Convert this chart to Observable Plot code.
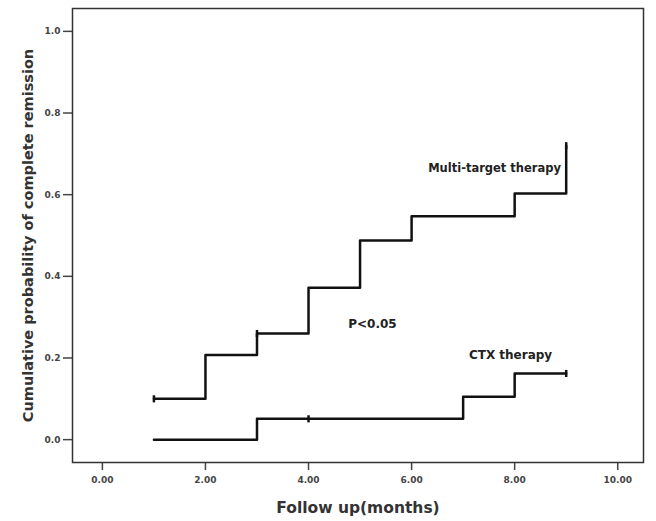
<!DOCTYPE html>
<html>
<head>
<meta charset="utf-8">
<script src="https://cdn.jsdelivr.net/npm/d3@7"></script>
<script src="https://cdn.jsdelivr.net/npm/@observablehq/plot@0.6"></script>
<style>
  html, body { margin: 0; padding: 0; background: #fff; }
  svg { display: block; }
</style>
</head>
<body>
<div id="chart"></div>
<script>
// Multi-target therapy: cumulative probability step curve
const multiTimes = [1, 2, 3, 4, 5, 6, 8, 9];
const multiValues = [0.10, 0.207, 0.26, 0.372, 0.488, 0.547, 0.603, 0.72];
const multiCensorTimes = [1, 3, 9];
const multiCensorValues = [0.10, 0.26, 0.72];

// CTX therapy
const ctxTimes = [1, 3, 7, 8, 9];
const ctxValues = [0, 0.051, 0.105, 0.162, 0.162];
const ctxCensorTimes = [4, 9];
const ctxCensorValues = [0.051, 0.162];

// Axis ticks
const xTicks = [0, 2, 4, 6, 8, 10];
const yTicks = [0, 0.2, 0.4, 0.6, 0.8, 1.0];

// Annotations
const noteTexts = ["Multi-target therapy", "P<0.05", "CTX therapy"];
const noteX = [7.61, 5.24, 7.92];
const noteY = [0.664, 0.284, 0.206];
const noteSize = [11.5, 12, 12];

const multi = multiTimes.map((t, i) => ({t, v: multiValues[i]}));
const ctx = ctxTimes.map((t, i) => ({t, v: ctxValues[i]}));
const censors = [
  ...multiCensorTimes.map((t, i) => ({t, v: multiCensorValues[i]})),
  ...ctxCensorTimes.map((t, i) => ({t, v: ctxCensorValues[i]}))
];
const notes = noteTexts.map((s, i) => ({s, x: noteX[i], y: noteY[i], size: noteSize[i]}));

const vtick = {
  draw(context, size) {
    const r = Math.sqrt(size) / 2;
    context.moveTo(0, -r);
    context.lineTo(0, r);
  }
};

const font = "DejaVu Sans, Verdana, sans-serif";

const plot = Plot.plot({
  width: 656,
  height: 521,
  marginLeft: 72,
  marginTop: 8,
  marginRight: 13,
  marginBottom: 59,
  style: {fontFamily: font, background: "#fff", color: "#333"},
  x: {domain: [-0.58, 10.5]},
  y: {domain: [-0.056, 1.056]},
  marks: [
    Plot.axisX({
      ticks: xTicks, tickFormat: d => d.toFixed(2), tickSize: 8, tickPadding: 6,
      fontSize: 9, fontWeight: "bold", strokeWidth: 1.5, color: "#444",
      label: null
    }),
    Plot.axisY({
      ticks: yTicks, tickFormat: d => d.toFixed(1), tickSize: 9, tickPadding: 3,
      fontSize: 9, fontWeight: "bold", strokeWidth: 1.5, color: "#444",
      label: null
    }),
    Plot.text(["Follow up(months)"], {
      frameAnchor: "bottom", dy: 50, fontSize: 15.5, fontWeight: "bold", fill: "#333"
    }),
    Plot.text(["Cumulative probability of complete remission"], {
      frameAnchor: "left", textAnchor: "middle", dx: -44, rotate: -90,
      fontSize: 14.5, fontWeight: "bold", fill: "#333"
    }),
    Plot.frame({stroke: "#333", strokeWidth: 1.5}),
    Plot.line(multi, {x: "t", y: "v", curve: "step-after", stroke: "#111", strokeWidth: 2.5}),
    Plot.line(ctx, {x: "t", y: "v", curve: "step-after", stroke: "#111", strokeWidth: 2.5}),
    Plot.dot(censors, {x: "t", y: "v", symbol: vtick, r: 4, stroke: "#111", strokeWidth: 2.5, fill: "none"}),
    Plot.text(notes, {x: "x", y: "y", text: "s", fontSize: d => d.size, textAnchor: "middle", fontWeight: "bold", fill: "#222"})
  ]
});
document.getElementById("chart").append(plot);
</script>
</body>
</html>
